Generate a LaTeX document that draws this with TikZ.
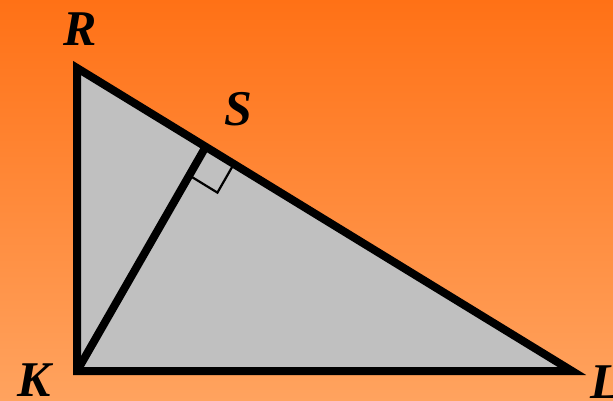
\documentclass[tikz,border=0pt]{standalone}
\usepackage{fontspec}
\setmainfont{Liberation Serif}
\usepackage{xcolor}
\usetikzlibrary{calc}

\definecolor{bgtop}{RGB}{255,113,22}
\definecolor{bgbot}{RGB}{255,163,95}
\definecolor{trifill}{HTML}{C0C0C0}

\begin{document}
\begin{tikzpicture}[x=1pt,y=-1pt,
  side/.style={line width=8pt,line join=miter},
  tick/.style={line width=2.2pt},
  vlabel/.style={font=\fontsize{50}{50}\selectfont\bfseries\itshape,inner sep=0pt}]

  % orange backdrop, lighter towards the bottom
  \shade[top color=bgtop,bottom color=bgbot] (0,0) rectangle (613,401);
  \useasboundingbox (0,0) rectangle (613,401);

  % vertices, S is where the altitude from K meets RL
  \coordinate (R) at (77,68);
  \coordinate (K) at (77,371);
  \coordinate (L) at (572,371);
  \coordinate (S) at ($(R)!0.26!(L)$);

  % triangle and altitude
  \filldraw[side,fill=trifill] (R) -- (K) -- (L) -- cycle;
  \draw[side] (K) -- (S);

  % right angle mark at S
  \coordinate (sa) at ($(S)!33pt!(L)$);
  \coordinate (sb) at ($(S)!33pt!(K)$);
  \draw[tick] (sa) -- ($(sa)+(sb)-(S)$) -- (sb);

  % vertex names
  \node[vlabel] (lR) at (80,29) {R};
  \node[vlabel] (lS) at (238,109) {S};
  \node[vlabel] (lK) at (34,380) {K};
  \node[vlabel] (lL) at (606,382) {L};

\end{tikzpicture}
\end{document}
